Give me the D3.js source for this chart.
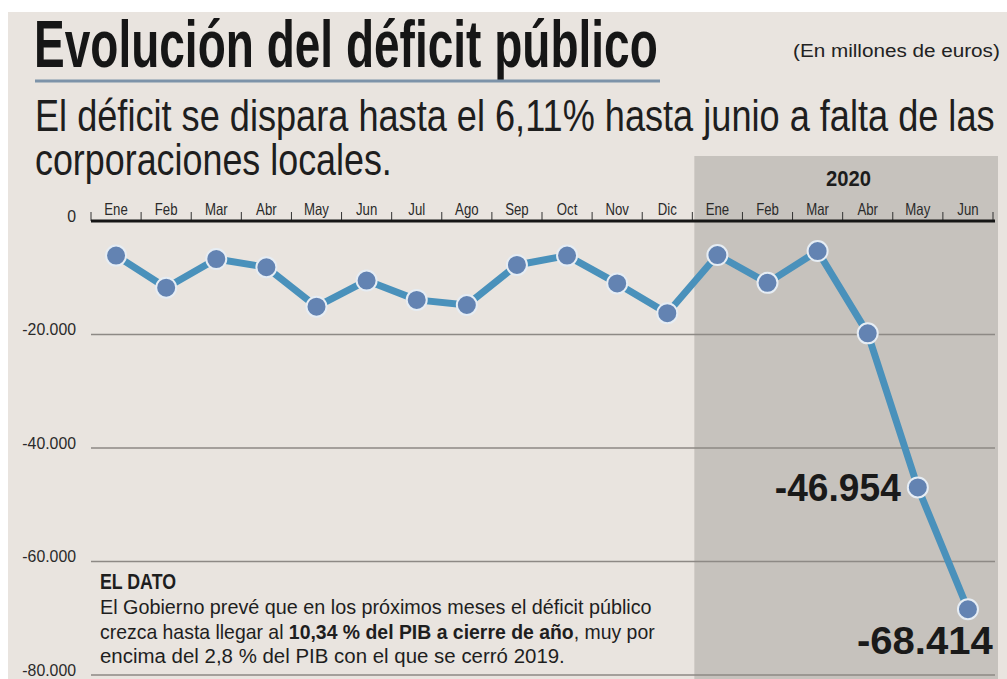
<!DOCTYPE html>
<html>
<head>
<meta charset="utf-8">
<script src="https://cdn.jsdelivr.net/npm/d3@7/dist/d3.min.js"></script>
<style>
  html, body { margin: 0; padding: 0; background: #ffffff; }
  svg { display: block; }
  text { font-family: "Liberation Sans", Arial, Helvetica, sans-serif; }
</style>
</head>
<body>
<svg id="chart" width="1007" height="679"></svg>
<script>
// Monthly public deficit, millions of euros (Jan 2019 – Jun 2020)
const months = ["Ene","Feb","Mar","Abr","May","Jun","Jul","Ago","Sep","Oct","Nov","Dic",
                "Ene","Feb","Mar","Abr","May","Jun"];
const deficit = [-6100, -11750, -6700, -8150, -15100, -10500, -13900, -14800,
                 -7750, -6100, -11000, -16250, -6000, -10900, -5300, -19800,
                 -46954, -68414];
const yTicks = [0, -20000, -40000, -60000, -80000];
const labelled = [16, 17];          // points carrying a value label
const highlightStart = 12;          // first month of 2020
const highlightLabel = "2020";

const es = d3.formatLocale({ decimal: ",", thousands: ".", grouping: [3], currency: ["", " €"], minus: "-" });
const fmt = es.format(",d");

const svg = d3.select("#chart");
const W = 1007, H = 679;

// squeeze a text horizontally so it spans the given width (condensed look)
function fit(sel, x, y, width) {
  const len = sel.node().getComputedTextLength();
  const s = width / len;
  sel.attr("x", 0).attr("y", 0)
     .attr("transform", `translate(${x},${y}) scale(${s},1)`);
  return sel;
}

// paper background with a thin white border at top and left
svg.append("rect").attr("x", 0).attr("y", 0).attr("width", W).attr("height", H).attr("fill", "#ffffff");
svg.append("rect").attr("x", 8).attr("y", 12).attr("width", W - 8).attr("height", H - 12).attr("fill", "#e9e4df");

const idx = d3.range(months.length);
const x = d3.scaleBand().domain(idx).range([91, 993]).paddingInner(0).paddingOuter(0);
const y = d3.scaleLinear().domain([-80000, 0]).range([675, 221]);

// shaded 2020 panel
const hx = x(highlightStart);
svg.append("rect")
  .attr("x", hx + 2).attr("y", 156)
  .attr("width", 998 - hx - 2).attr("height", H - 156)
  .attr("fill", "#c6c2bd");

fit(svg.append("text")
  .attr("font-weight", "bold").attr("font-size", 23)
  .attr("fill", "#1c1c1c")
  .text(highlightLabel), 826, 186, 45);

// headings
fit(svg.append("text")
  .attr("font-weight", "bold").attr("font-size", 66)
  .attr("fill", "#161616")
  .text("Evolución del déficit público"), 34, 67, 624);

svg.append("line")
  .attr("x1", 35).attr("x2", 660).attr("y1", 81).attr("y2", 81)
  .attr("stroke", "#7d93a9").attr("stroke-width", 3);

fit(svg.append("text")
  .attr("font-size", 18)
  .attr("fill", "#222")
  .text("(En millones de euros)"), 793, 57, 207);

fit(svg.append("text")
  .attr("font-size", 44)
  .attr("fill", "#1e1e1e")
  .text("El déficit se dispara hasta el 6,11% hasta junio a falta de las"), 35, 131, 960);

fit(svg.append("text")
  .attr("font-size", 44)
  .attr("fill", "#1e1e1e")
  .text("corporaciones locales."), 35, 175, 357);

// horizontal gridlines
svg.append("g").selectAll("line")
  .data(yTicks.filter(d => d !== 0))
  .join("line")
  .attr("x1", 91).attr("x2", 995)
  .attr("y1", d => y(d)).attr("y2", d => y(d))
  .attr("stroke", "#8d8985").attr("stroke-width", 1.5);

// y axis labels
const yAxis = d3.axisLeft(y).tickValues(yTicks).tickSize(0).tickPadding(0).tickFormat(fmt);
const gy = svg.append("g").attr("transform", "translate(76,-5)").call(yAxis);
gy.select(".domain").remove();
gy.selectAll("text").attr("font-size", 16.5).attr("fill", "#2a2a2a")
  .attr("font-family", "\"Liberation Sans\", Arial, sans-serif")
  .attr("transform", "scale(0.96,1)");

// top month axis
const xAxis = d3.axisTop(x).tickSize(0).tickPadding(6).tickFormat(i => months[i]);
const gx = svg.append("g").attr("transform", `translate(0,${y(0)})`).call(xAxis);
gx.select(".domain").remove();
gx.selectAll("text").attr("font-size", 16.5).attr("fill", "#2a2a2a")
  .attr("font-family", "\"Liberation Sans\", Arial, sans-serif")
  .attr("transform", "scale(0.8,1)");

// tick marks at month boundaries
const bounds = idx.map(i => x(i)).concat([x.range()[1]]);
svg.append("g").selectAll("line")
  .data(bounds)
  .join("line")
  .attr("x1", d => d).attr("x2", d => d)
  .attr("y1", y(0) - 9).attr("y2", y(0))
  .attr("stroke", "#333").attr("stroke-width", 1);

svg.append("line")
  .attr("x1", 91).attr("x2", 995)
  .attr("y1", y(0)).attr("y2", y(0))
  .attr("stroke", "#161616").attr("stroke-width", 3);

// series line and markers
const cx = i => x(i) + x.bandwidth() / 2;
const line = d3.line().x((d, i) => cx(i)).y(d => y(d));
svg.append("path")
  .datum(deficit)
  .attr("d", line)
  .attr("fill", "none")
  .attr("stroke", "#4a91bb").attr("stroke-width", 7)
  .attr("stroke-linejoin", "round");

svg.append("g").selectAll("circle")
  .data(deficit)
  .join("circle")
  .attr("cx", (d, i) => cx(i)).attr("cy", d => y(d))
  .attr("r", 10)
  .attr("fill", "#6383b2")
  .attr("stroke", "#e6edf4").attr("stroke-width", 2);

// value labels for the last two months (left edge, baseline offset, width)
const labelPos = { 16: { dx: -143, dy: 14, w: 126 }, 17: { dx: -111, dy: 45, w: 136 } };
labelled.forEach(i => {
  fit(svg.append("text")
    .attr("font-weight", "bold").attr("font-size", 38)
    .attr("fill", "#1a1a1a")
    .text(fmt(deficit[i])), cx(i) + labelPos[i].dx, y(deficit[i]) + labelPos[i].dy, labelPos[i].w);
});

// side note
fit(svg.append("text").attr("fill", "#1e1e1e")
  .attr("font-weight", "bold").attr("font-size", 22).text("EL DATO"), 100, 589, 76);

fit(svg.append("text").attr("font-size", 20).attr("fill", "#1e1e1e")
  .text("El Gobierno prevé que en los próximos meses el déficit público"), 100, 614, 552);

const l2 = svg.append("text").attr("font-size", 20).attr("fill", "#1e1e1e");
l2.append("tspan").text("crezca hasta llegar al ");
l2.append("tspan").attr("font-weight", "bold").text("10,34 % del PIB a cierre de año");
l2.append("tspan").text(", muy por");
fit(l2, 100, 639, 555);

fit(svg.append("text").attr("font-size", 20).attr("fill", "#1e1e1e")
  .text("encima del 2,8 % del PIB con el que se cerró 2019."), 100, 663, 465);
</script>
</body>
</html>
